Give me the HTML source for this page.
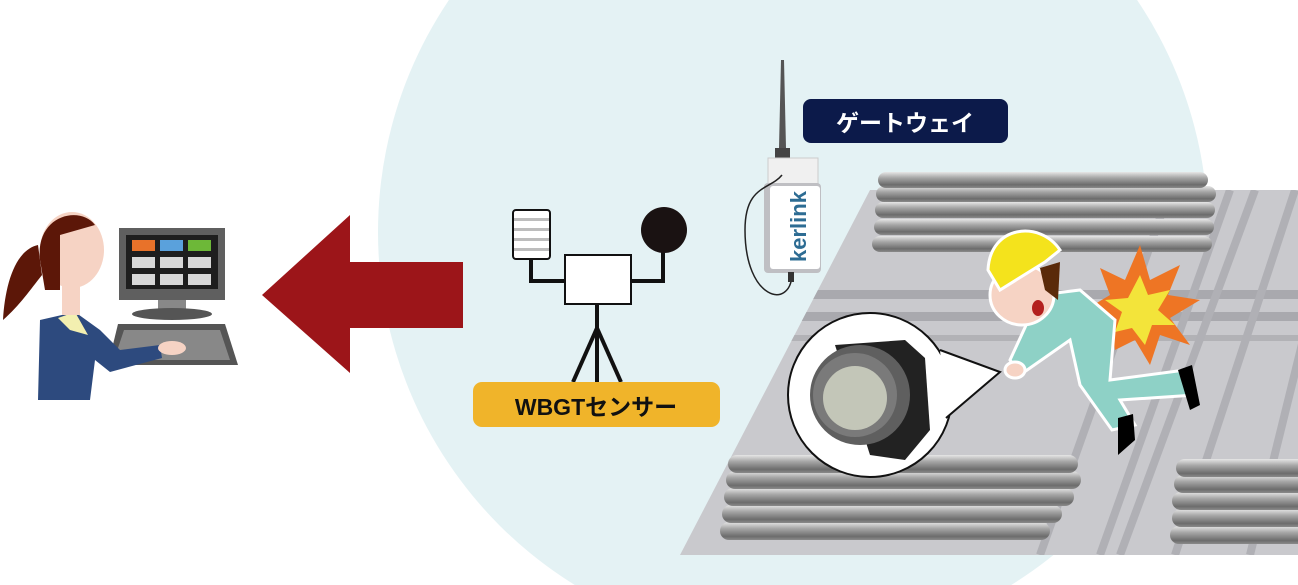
<!DOCTYPE html>
<html><head><meta charset="utf-8"><style>
html,body{margin:0;padding:0;background:#fff;width:1298px;height:585px;overflow:hidden;}
svg{display:block}
text{font-family:"Liberation Sans","Noto Sans CJK JP",sans-serif;font-weight:bold}
</style></head><body>
<svg width="1298" height="585" viewBox="0 0 1298 585" xmlns="http://www.w3.org/2000/svg">
<defs>
<linearGradient id="rod" x1="0" y1="0" x2="0" y2="1">
<stop offset="0" stop-color="#e6e6e6"/><stop offset="0.35" stop-color="#a8a8a8"/><stop offset="0.8" stop-color="#6c6c6c"/><stop offset="1" stop-color="#8a8a8a"/>
</linearGradient>
<clipPath id="plat"><polygon points="870,190 1298,190 1298,555 680,555"/></clipPath>
</defs>
<circle cx="793" cy="232" r="415" fill="#e4f2f4"/>
<polygon points="870,190 1298,190 1298,555 680,555" fill="#c9c9cd"/>
<g clip-path="url(#plat)">
<rect x="680" y="290" width="620" height="9" fill="#a9a9ae"/>
<rect x="680" y="312" width="620" height="9" fill="#a9a9ae"/>
<rect x="680" y="335" width="620" height="6" fill="#b2b2b6"/>
<g stroke="#b0b0b5" stroke-width="8">
<line x1="1100" y1="555" x2="1230" y2="190"/><line x1="1120" y1="555" x2="1255" y2="190"/>
<line x1="1175" y1="555" x2="1295" y2="190"/><line x1="1040" y1="555" x2="1170" y2="190"/>
<line x1="1250" y1="555" x2="1340" y2="190"/>
</g>
</g>
<g>
<rect x="872" y="236" width="340" height="16" rx="8" fill="url(#rod)"/>
<rect x="874" y="219" width="340" height="16" rx="8" fill="url(#rod)"/>
<rect x="875" y="202" width="340" height="16" rx="8" fill="url(#rod)"/>
<rect x="876" y="186" width="340" height="16" rx="8" fill="url(#rod)"/>
<rect x="878" y="172" width="330" height="16" rx="8" fill="url(#rod)"/>
</g>
<g>
<rect x="720" y="522" width="330" height="18" rx="9" fill="url(#rod)"/>
<rect x="722" y="505" width="340" height="18" rx="9" fill="url(#rod)"/>
<rect x="724" y="488" width="350" height="18" rx="9" fill="url(#rod)"/>
<rect x="726" y="471" width="355" height="18" rx="9" fill="url(#rod)"/>
<rect x="728" y="455" width="350" height="18" rx="9" fill="url(#rod)"/>
</g>
<g>
<rect x="1170" y="526" width="140" height="18" rx="9" fill="url(#rod)"/>
<rect x="1172" y="509" width="140" height="18" rx="9" fill="url(#rod)"/>
<rect x="1172" y="492" width="140" height="18" rx="9" fill="url(#rod)"/>
<rect x="1174" y="475" width="140" height="18" rx="9" fill="url(#rod)"/>
<rect x="1176" y="459" width="140" height="18" rx="9" fill="url(#rod)"/>
</g>
<polygon points="262,295 350,215 350,262 463,262 463,328 350,328 350,373" fill="#9c1519"/>
<g stroke="#111" stroke-width="4" fill="none">
<polyline points="531,258 531,281 566,281"/>
<polyline points="630,281 663,281 663,250"/>
<line x1="597" y1="304" x2="597" y2="382"/>
<line x1="597" y1="328" x2="573" y2="382"/>
<line x1="597" y1="328" x2="621" y2="382"/>
</g>
<rect x="513" y="210" width="37" height="49" rx="3" fill="#fff" stroke="#111" stroke-width="2"/>
<g fill="#bdbdbd"><rect x="514" y="218" width="35" height="3"/><rect x="514" y="228" width="35" height="3"/><rect x="514" y="238" width="35" height="3"/><rect x="514" y="248" width="35" height="3"/></g>
<circle cx="664" cy="230" r="23" fill="#1a1212"/>
<rect x="565" y="255" width="66" height="49" fill="#fff" stroke="#111" stroke-width="2"/>
<rect x="473" y="382" width="247" height="45" rx="9" fill="#f0b42a"/>
<text x="596" y="415" font-size="23" fill="#111" text-anchor="middle">WBGTセンサー</text>
<rect x="803" y="99" width="205" height="44" rx="8" fill="#0c1a4a"/>
<text x="905" y="131" font-size="23" fill="#fff" text-anchor="middle">ゲートウェイ</text>
<polygon points="781,60 784,60 786,148 779,148" fill="#555"/>
<rect x="775" y="148" width="15" height="14" fill="#444"/>
<rect x="768" y="158" width="50" height="26" fill="#f0f0f0" stroke="#ccc"/>
<rect x="764" y="183" width="57" height="90" rx="4" fill="#bfbfc3"/>
<rect x="770" y="186" width="50" height="83" rx="3" fill="#fff"/>
<text transform="translate(806,262) rotate(-90)" font-size="22" fill="#2d6c93" font-weight="normal">ker<tspan font-weight="bold">link</tspan></text>
<path d="M782,175 C770,190 745,185 745,230 C745,300 790,310 792,275" stroke="#222" stroke-width="1.5" fill="none"/>
<rect x="788" y="272" width="6" height="10" fill="#333"/>
<!-- speech bubble -->
<circle cx="870" cy="395" r="82" fill="#fff" stroke="#111" stroke-width="2"/>
<path d="M940,350 L1000,372 L946,418" fill="#fff" stroke="#111" stroke-width="2"/>
<path d="M835,345 L905,340 L925,358 L930,430 L905,460 L870,455 Z" fill="#222"/>
<circle cx="860" cy="395" r="50" fill="#5f5f5f"/>
<circle cx="855" cy="395" r="42" fill="#7a7a7a"/>
<circle cx="855" cy="398" r="32" fill="#c3c6b8"/>
<polygon points="1140,245 1150,280 1180,265 1168,295 1200,300 1170,318 1190,345 1160,335 1150,365 1135,340 1115,350 1110,320 1085,310 1110,295 1100,268 1125,280" fill="#ee7524"/>
<polygon points="1140,275 1148,295 1170,290 1158,310 1175,325 1152,325 1145,345 1132,328 1115,332 1122,312 1105,300 1128,298" fill="#f3e43a"/>
<g stroke="#fff" stroke-width="3">
<path d="M1040,295 L1080,290 L1115,320 L1110,380 L1185,370 L1195,395 L1120,400 L1135,425 L1112,430 L1080,385 L1070,340 L1020,375 L1010,360 Z" fill="#8ed1c6"/>
<ellipse cx="1022" cy="295" rx="32" ry="30" fill="#f6d3c4"/>
<path d="M988,270 C990,225 1040,220 1060,250 L1045,262 L1000,290 Z" fill="#f4e31c"/>
<ellipse cx="1015" cy="370" rx="10" ry="8" fill="#f6d3c4"/>
</g>
<path d="M1040,268 L1060,262 L1058,300 L1045,290 Z" fill="#5a2a0a"/>
<ellipse cx="1038" cy="308" rx="6" ry="8" fill="#b3201e"/>
<path d="M1178,370 L1192,365 L1200,405 L1190,410 Z" fill="#000"/>
<path d="M1118,418 L1133,414 L1135,440 L1118,455 Z" fill="#000"/>
<rect x="119" y="228" width="106" height="72" fill="#5f5f5f"/>
<rect x="126" y="235" width="92" height="54" fill="#1e1e1e"/>
<rect x="132" y="240" width="23" height="11" fill="#e8722a"/><rect x="160" y="240" width="23" height="11" fill="#5aa1dc"/><rect x="188" y="240" width="23" height="11" fill="#6db838"/>
<rect x="132" y="257" width="23" height="11" fill="#d8d8d8"/><rect x="160" y="257" width="23" height="11" fill="#d8d8d8"/><rect x="188" y="257" width="23" height="11" fill="#d8d8d8"/>
<rect x="132" y="274" width="23" height="11" fill="#d8d8d8"/><rect x="160" y="274" width="23" height="11" fill="#d8d8d8"/><rect x="188" y="274" width="23" height="11" fill="#d8d8d8"/>
<rect x="158" y="300" width="28" height="12" fill="#888"/>
<ellipse cx="172" cy="314" rx="40" ry="6" fill="#555"/>
<polygon points="118,324 225,324 238,365 108,365" fill="#555"/>
<polygon points="124,330 220,330 230,360 114,360" fill="#888"/>
<path d="M40,320 L75,312 L100,330 L120,350 L160,345 L162,358 L110,372 L95,360 L90,400 L38,400 Z" fill="#2d4a7e"/>
<path d="M58,318 L75,312 L88,335 L70,330 Z" fill="#f3efb0"/>
<ellipse cx="172" cy="348" rx="14" ry="7" fill="#f6d3c4"/>
<ellipse cx="72" cy="250" rx="32" ry="38" fill="#f6d3c4"/>
<rect x="62" y="280" width="18" height="35" fill="#f6d3c4"/>
<path d="M40,260 C35,215 80,205 95,225 L60,235 L60,290 L45,290 Z" fill="#5c1708"/>
<path d="M38,245 C15,250 5,285 3,320 C20,305 30,290 42,275 Z" fill="#5c1708"/>
</svg>
</body></html>
